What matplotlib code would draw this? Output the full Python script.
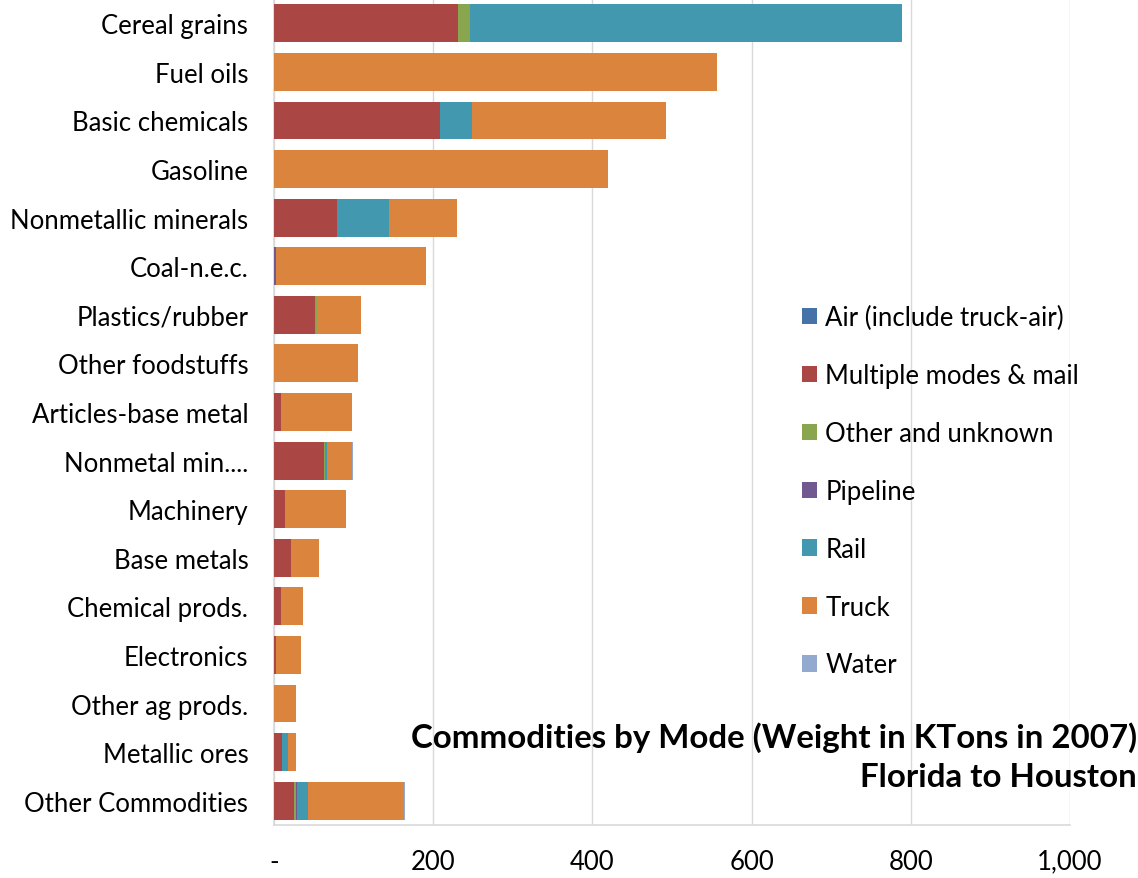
import matplotlib
matplotlib.use("Agg")
import matplotlib.pyplot as plt
import numpy as np
from matplotlib.ticker import FuncFormatter, MultipleLocator
from matplotlib.patches import Patch

plt.rcParams['font.family'] = ['Lato', 'DejaVu Sans']

categories = [
    "Cereal grains", "Fuel oils", "Basic chemicals", "Gasoline",
    "Nonmetallic minerals", "Coal-n.e.c.", "Plastics/rubber",
    "Other foodstuffs", "Articles-base metal", "Nonmetal min....",
    "Machinery", "Base metals", "Chemical prods.", "Electronics",
    "Other ag prods.", "Metallic ores", "Other Commodities",
]

modes = ["Air (include truck-air)", "Multiple modes & mail", "Other and unknown",
         "Pipeline", "Rail", "Truck", "Water"]

air      = [0,   0,   0,   0,   0,  0,   0,   0,   0,  0,   0,  0,  0,  0,  0,  0,   0]
multiple = [231, 0,   208, 0,   79, 0,   52,  0,   9,  63,  14, 21, 9,  3,  0,  10,  25.5]
other    = [15,  0,   0,   0,   0,  0,   2,   0,   0,  0.5, 0,  0,  0,  0,  0,  0,   2]
pipeline = [0,   0,   0,   0,   0,  2,   0,   0,   0,  0,   0,  0,  0,  0,  0,  0,   1]
rail     = [543, 0,   41,  0,   66, 0,   0,   0,   0,  2.5, 0,  0,  0,  0,  0,  7.5, 14]
truck    = [0,   557, 244, 420, 85, 189, 55,  105, 89, 32,  77, 36, 27, 31, 28, 10,  120.5]
water    = [0,   0,   0,   0,   0,  0,   0,   0,   0,  1,   0,  0,  0,  0,  0,  0,   1]

colors = ["#4572A7", "#AA4643", "#89A54E", "#71588F", "#4198AF", "#DB843D", "#93A9CF"]
series = [air, multiple, other, pipeline, rail, truck, water]

FS = 18.5

fig = plt.figure(figsize=(11.38, 8.79), dpi=100)
ax = fig.add_axes([274 / 1138, 1 - 826 / 879, 796 / 1138, 826 / 879])

y = np.arange(len(categories))
left = np.zeros(len(categories))
for vals, col in zip(series, colors):
    v = np.array(vals, dtype=float)
    ax.barh(y, v, left=left, height=0.78, color=col, edgecolor="none", zorder=3)
    left += v

ax.set_ylim(len(categories) - 0.5, -0.5)
ax.set_xlim(0, 1000)
ax.xaxis.set_major_locator(MultipleLocator(200))
ax.xaxis.set_major_formatter(FuncFormatter(lambda v, p: "-" if v == 0 else f"{v:,.0f}"))
ax.grid(axis="x", color="#D9D9D9", linewidth=1, zorder=0)

ax.set_yticks(y)
ax.set_yticklabels(categories, fontsize=FS, color="#000000")
ax.tick_params(axis="y", length=0, pad=18.5)
ax.tick_params(axis="x", length=0, pad=17, labelsize=FS, labelcolor="#000000")

for s in ["top", "right"]:
    ax.spines[s].set_visible(False)
for s in ["left", "bottom"]:
    ax.spines[s].set_color("#D9D9D9")
    ax.spines[s].set_linewidth(1.2)

handles = [Patch(facecolor=c, edgecolor="none") for c in colors]
fig.legend(handles, modes, loc="upper left", bbox_to_anchor=(802 / 1138, 1 - 306 / 879),
           frameon=False, fontsize=FS, handlelength=0.6, handleheight=0.6,
           handletextpad=0.3, labelspacing=1.28, borderpad=0, borderaxespad=0)

fig.text(1137 / 1138, 1 - 738 / 879, "Commodities by Mode (Weight in KTons in 2007)",
         ha="right", va="center", fontsize=23.8, fontweight="bold", color="#000000")
fig.text(1137 / 1138, 1 - 778 / 879, "Florida to Houston",
         ha="right", va="center", fontsize=23.8, fontweight="bold", color="#000000")

fig.savefig("out.png", dpi=100)
